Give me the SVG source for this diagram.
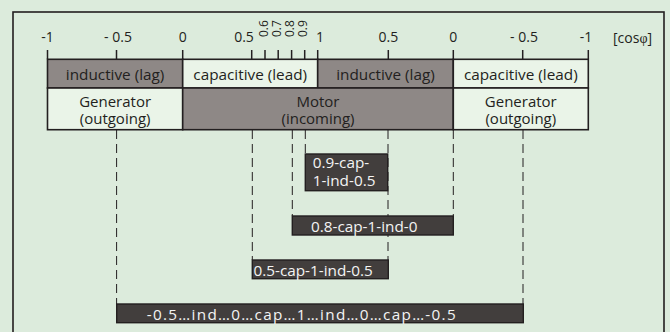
<svg xmlns="http://www.w3.org/2000/svg" width="670" height="332" viewBox="0 0 670 332">
<style>
text{font-family:"Open Sans","Liberation Sans",sans-serif;fill:#231f20}
.t{font-size:14px;text-anchor:middle}
.r{font-size:12px}
.lbl{font-size:15.3px;text-anchor:middle}
.l2{font-size:15px;text-anchor:middle}
.bx text{font-size:15.3px;fill:#f4f4f4}
.gray{fill:#8e8886;stroke:#231f20;stroke-width:1.6}
.light{fill:#eaf4e8;stroke:#231f20;stroke-width:1.6}
.dark{fill:#423e3d;stroke:#231f20;stroke-width:1.4}
.tick{stroke:#231f20;stroke-width:1.5}
.dash{stroke:#231f20;stroke-width:1;stroke-dasharray:9 5;fill:none}
</style>
<rect x="0" y="0" width="670" height="332" fill="#dcebdc"/>
<rect x="13" y="12" width="651" height="340" fill="none" stroke="#231f20" stroke-width="1.6"/>
<g id="axis">
<g class="tick">
<line x1="47.5" y1="50" x2="47.5" y2="59.3"/>
<line x1="116.5" y1="50" x2="116.5" y2="59.3"/>
<line x1="182.7" y1="50" x2="182.7" y2="59.3"/>
<line x1="251.7" y1="50" x2="251.7" y2="59.3"/>
<line x1="265" y1="50" x2="265" y2="59.3"/>
<line x1="278.2" y1="50" x2="278.2" y2="59.3"/>
<line x1="291.6" y1="50" x2="291.6" y2="59.3"/>
<line x1="304.7" y1="50" x2="304.7" y2="59.3"/>
<line x1="317.7" y1="50" x2="317.7" y2="59.3"/>
<line x1="388.3" y1="50" x2="388.3" y2="59.3"/>
<line x1="453.3" y1="50" x2="453.3" y2="59.3"/>
<line x1="522.7" y1="50" x2="522.7" y2="59.3"/>
<line x1="588.3" y1="50" x2="588.3" y2="59.3"/>
</g>
<text class="t" x="47.5" y="41.7">-1</text>
<text class="t" x="118" y="41.7">- 0.5</text>
<text class="t" x="182.7" y="41.7">0</text>
<text class="t" x="244" y="41.7">0.5</text>
<text class="r" transform="translate(268,37) rotate(-90)">0.6</text>
<text class="r" transform="translate(281,37) rotate(-90)">0.7</text>
<text class="r" transform="translate(294,37) rotate(-90)">0.8</text>
<text class="r" transform="translate(307,37) rotate(-90)">0.9</text>
<text class="t" x="320" y="41.7">1</text>
<text class="t" x="388.3" y="41.7">0.5</text>
<text class="t" x="453.3" y="41.7">0</text>
<text class="t" x="524" y="41.7">- 0.5</text>
<text class="t" x="586" y="41.7">-1</text>
<text x="613" y="42.5" style="font-size:14px">[cos<tspan style="font-family:'Liberation Serif',serif">φ</tspan>]</text>
</g>
<g id="connectors">
<line class="dash" x1="116.6" y1="130" x2="116.6" y2="304"/>
<line class="dash" x1="252.3" y1="130" x2="252.3" y2="260"/>
<line class="dash" x1="292.3" y1="130" x2="292.3" y2="216"/>
<line class="dash" x1="305.3" y1="130" x2="305.3" y2="154"/>
<line class="dash" x1="388" y1="130" x2="388" y2="260"/>
<line class="dash" x1="453.3" y1="130" x2="453.3" y2="216"/>
<line class="dash" x1="523" y1="130" x2="523" y2="304"/>
</g>
<g id="band-ind-left"><rect class="gray" x="47.5" y="59.3" width="135.2" height="28.7"/><text class="lbl" x="115.1" y="80">inductive (lag)</text></g>
<g id="band-cap-left"><rect class="light" x="182.7" y="59.3" width="135" height="28.7"/><text class="lbl" x="250.2" y="80">capacitive (lead)</text></g>
<g id="band-ind-right"><rect class="gray" x="317.7" y="59.3" width="135.6" height="28.7"/><text class="lbl" x="385.5" y="80">inductive (lag)</text></g>
<g id="band-cap-right"><rect class="light" x="453.3" y="59.3" width="135" height="28.7"/><text class="lbl" x="520.8" y="80">capacitive (lead)</text></g>
<g id="gen-left"><rect class="light" x="47.5" y="88" width="135.2" height="41.7"/><text class="l2" x="115.1" y="107">Generator</text><text class="l2" x="115.1" y="123.5">(outgoing)</text></g>
<g id="motor"><rect class="gray" x="182.7" y="88" width="270.6" height="41.7"/><text class="l2" x="318" y="107">Motor</text><text class="l2" x="318" y="123.5">(incoming)</text></g>
<g id="gen-right"><rect class="light" x="453.3" y="88" width="135" height="41.7"/><text class="l2" x="520.8" y="107">Generator</text><text class="l2" x="520.8" y="123.5">(outgoing)</text></g>
<g id="box-09" class="bx"><rect class="dark" x="305.3" y="154" width="82.4" height="36.7"/><text x="312.7" y="168.3">0.9-cap-</text><text x="312.7" y="185.7">1-ind-0.5</text></g>
<g id="box-08" class="bx"><rect class="dark" x="292.3" y="216" width="161" height="19"/><text x="311" y="231.5">0.8-cap-1-ind-0</text></g>
<g id="box-05" class="bx"><rect class="dark" x="252.3" y="260" width="136" height="18.7"/><text x="253.5" y="275.5">0.5-cap-1-ind-0.5</text></g>
<g id="box-all" class="bx"><rect class="dark" x="116.7" y="304" width="406.6" height="18.7"/><text x="146.7" y="319.8" textLength="309" lengthAdjust="spacing">-0.5…ind…0…cap…1…ind…0…cap…-0.5</text></g>
</svg>
